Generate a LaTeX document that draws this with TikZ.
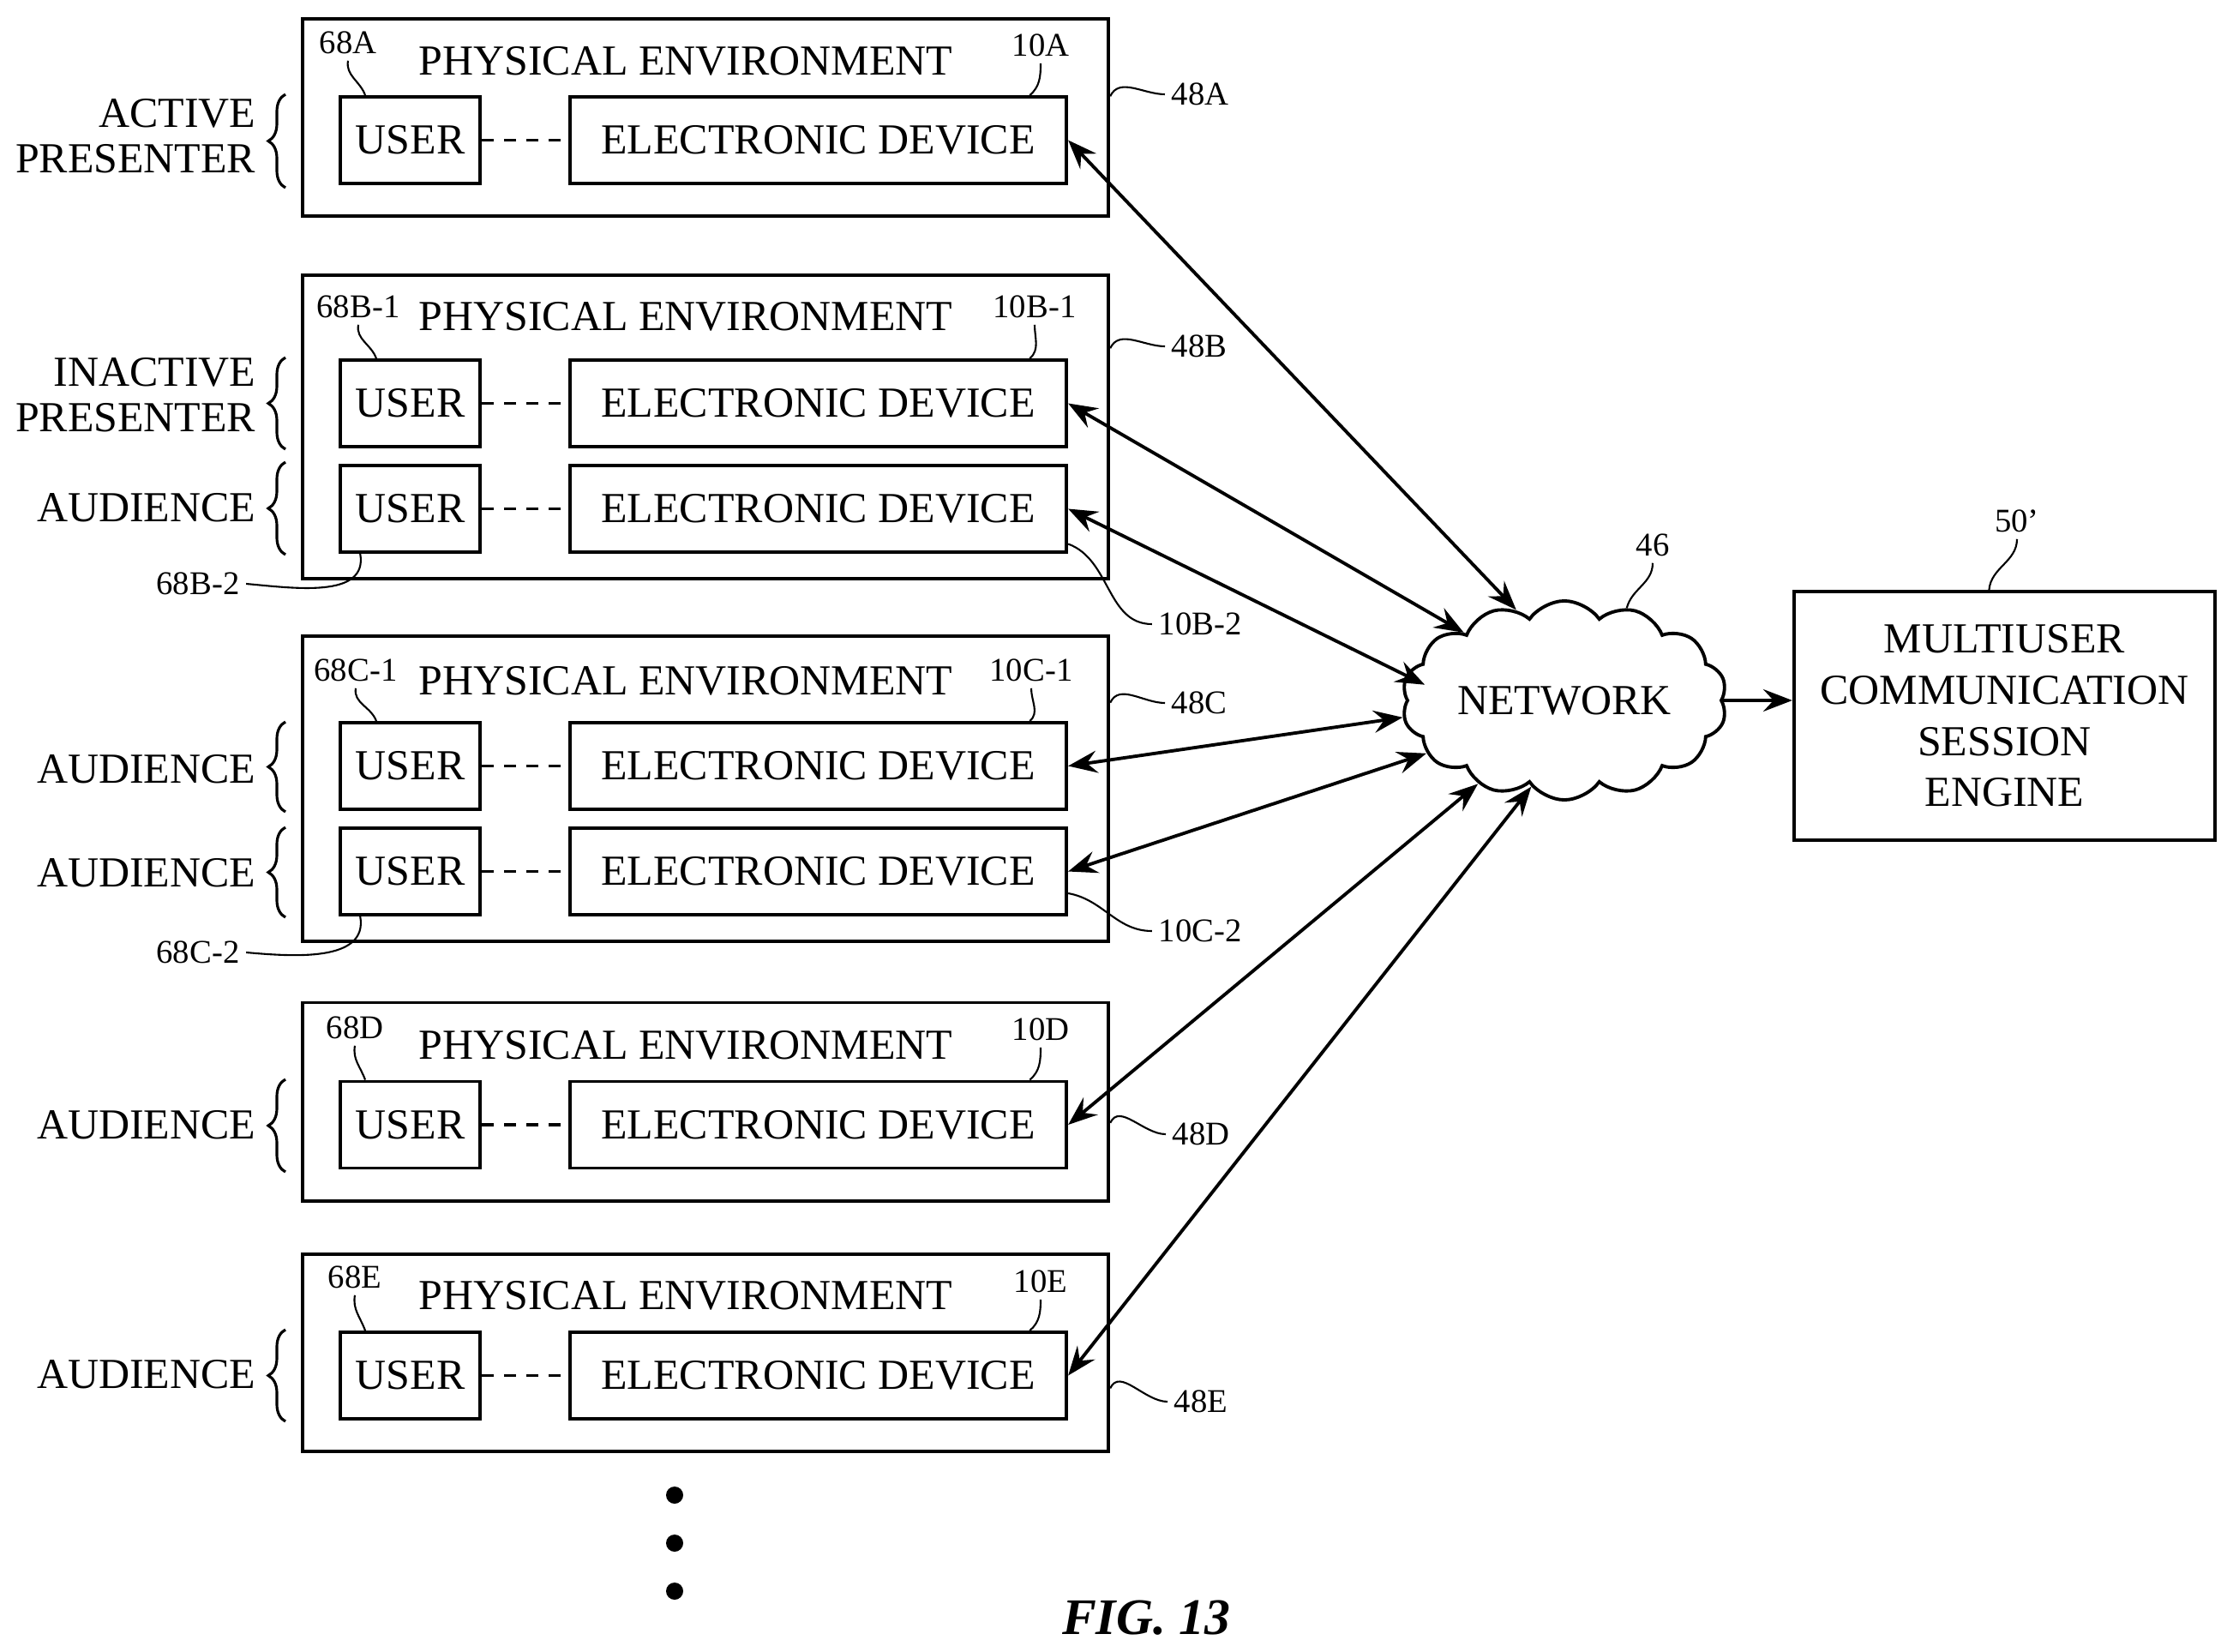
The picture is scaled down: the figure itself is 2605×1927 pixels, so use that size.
\documentclass[tikz,border=0pt]{standalone}
\usepackage{fontspec}
\setmainfont{Liberation Serif}
\usetikzlibrary{arrows.meta,shapes.symbols,decorations.pathreplacing}
\tikzset{
	envbox/.style={draw,line width=1.1pt,minimum width=9.4cm,inner sep=0pt},
	usrbox/.style={draw,line width=1.1pt,minimum width=1.63cm,minimum height=1.01cm,inner sep=0pt,font=\fontsize{14.2}{17}\selectfont},
	devbox/.style={draw,line width=1.1pt,minimum width=5.79cm,minimum height=1.01cm,inner sep=0pt,font=\fontsize{14.2}{17}\selectfont},
	envtxt/.style={inner sep=0pt,font=\fontsize{14.2}{17}\selectfont},
	rolelbl/.style={anchor=east,align=right,inner sep=0pt,font=\fontsize{14.2}{15}\selectfont},
	reflbl/.style={inner sep=2pt,font=\fontsize{11}{13}\selectfont},
	leader/.style={line width=0.6pt},
	linkdash/.style={line width=1pt,dash pattern=on 0.14cm off 0.12cm},
	bracemark/.style={line width=0.9pt,decorate,decoration={brace,amplitude=0.2cm}},
	biarrow/.style={line width=1.1pt,{Stealth[length=0.34cm,width=0.26cm,inset=0.12cm]}-{Stealth[length=0.34cm,width=0.26cm,inset=0.12cm]}},
	onearrow/.style={line width=1.1pt,-{Stealth[length=0.34cm,width=0.26cm,inset=0.12cm]}},
	dotmark/.style={circle,fill,inner sep=0pt,minimum size=0.2cm}
}
\begin{document}
\begin{tikzpicture}[x=0.01cm,y=-0.01cm]
	\useasboundingbox (0,0) rectangle (2605,1927);
	%environment A
		\node[envbox,minimum height=2.3cm] (envA) at (823,137) {};
		\node[envtxt] (titleA) at (800,71) {PHYSICAL ENVIRONMENT};
		\node[usrbox] (usrA) at (478.5,163.5) {USER};
		\node[devbox] (devA) at (954.5,163.5) {ELECTRONIC DEVICE};
		\draw[linkdash] (usrA) -- (devA);
		% brace
		\draw[bracemark] (333,219) -- (333,110);
		\node[rolelbl] (roleA) at (299,159) {ACTIVE\\PRESENTER};
		% refs
		\node[reflbl] (l68A) at (406,50) {68A};
		\node[reflbl] (l10A) at (1214,53) {10A};
		\node[reflbl] (l48A) at (1400,110) {48A};
		\draw[leader] (l68A.south) to[out=-100,in=110] (usrA.135);
		\draw[leader] (l10A.south) to[out=-90,in=40] (devA.12);
		\draw[leader] (envA.3) to[out=65,in=180] (l48A.west);
	%environment B
		\node[envbox,minimum height=3.54cm] (envB) at (823,498) {};
		\node[envtxt] (titleB) at (800,369) {PHYSICAL ENVIRONMENT};
		\node[usrbox] (usrBa) at (478.5,470.5) {USER};
		\node[devbox] (devBa) at (954.5,470.5) {ELECTRONIC DEVICE};
		\node[usrbox] (usrBb) at (478.5,593.5) {USER};
		\node[devbox] (devBb) at (954.5,593.5) {ELECTRONIC DEVICE};
		\draw[linkdash] (usrBa) -- (devBa);
		\draw[linkdash] (usrBb) -- (devBb);
		% brace
		\draw[bracemark] (333,524) -- (333,417);
		\draw[bracemark] (333,647) -- (333,539);
		\node[rolelbl] (roleBa) at (299,461) {INACTIVE\\PRESENTER};
		\node[rolelbl] (roleBb) at (299,592) {AUDIENCE};
		% refs
		\node[reflbl] (l68Ba) at (418,358) {68B-1};
		\node[reflbl] (l10Ba) at (1207,358) {10B-1};
		\node[reflbl] (l68Bb) at (231,681) {68B-2};
		\node[reflbl] (l10Bb) at (1400,728) {10B-2};
		\node[reflbl] (l48B) at (1399,404) {48B};
		\draw[leader] (l68Ba.south) to[out=-100,in=110] (usrBa.127);
		\draw[leader] (l10Ba.south) to[out=-90,in=40] (devBa.12);
		\draw[leader] (l68Bb.east) to[out=-5,in=-80] (usrBb.222);
		\draw[leader] (devBb.-8) to[out=-20,in=180] (l10Bb.west);
		\draw[leader] (envB.11) to[out=65,in=180] (l48B.west);
	%environment C
		\node[envbox,minimum height=3.56cm] (envC) at (823,920) {};
		\node[envtxt] (titleC) at (800,794) {PHYSICAL ENVIRONMENT};
		\node[usrbox] (usrCa) at (478.5,893.5) {USER};
		\node[devbox] (devCa) at (954.5,893.5) {ELECTRONIC DEVICE};
		\node[usrbox] (usrCb) at (478.5,1016.5) {USER};
		\node[devbox] (devCb) at (954.5,1016.5) {ELECTRONIC DEVICE};
		\draw[linkdash] (usrCa) -- (devCa);
		\draw[linkdash] (usrCb) -- (devCb);
		% brace
		\draw[bracemark] (333,947) -- (333,842);
		\draw[bracemark] (333,1070) -- (333,965);
		\node[rolelbl] (roleCa) at (299,897) {AUDIENCE};
		\node[rolelbl] (roleCb) at (299,1018) {AUDIENCE};
		% refs
		\node[reflbl] (l68Ca) at (415,782) {68C-1};
		\node[reflbl] (l10Ca) at (1203,782) {10C-1};
		\node[reflbl] (l68Cb) at (231,1111) {68C-2};
		\node[reflbl] (l10Cb) at (1400,1086) {10C-2};
		\node[reflbl] (l48C) at (1399,820) {48C};
		\draw[leader] (l68Ca.south) to[out=-100,in=110] (usrCa.127);
		\draw[leader] (l10Ca.south) to[out=-90,in=40] (devCa.12);
		\draw[leader] (l68Cb.east) to[out=-5,in=-80] (usrCb.222);
		\draw[leader] (devCb.-5) to[out=-10,in=180] (l10Cb.west);
		\draw[leader] (envC.12) to[out=65,in=180] (l48C.west);
	%environment D
		\node[envbox,minimum height=2.31cm] (envD) at (823,1285) {};
		\node[envtxt] (titleD) at (800,1219) {PHYSICAL ENVIRONMENT};
		\node[usrbox] (usrD) at (478.5,1312) {USER};
		\node[devbox] (devD) at (954.5,1312) {ELECTRONIC DEVICE};
		\draw[linkdash] (usrD) -- (devD);
		% brace
		\draw[bracemark] (333,1367) -- (333,1259);
		\node[rolelbl] (roleD) at (299,1312) {AUDIENCE};
		% refs
		\node[reflbl] (l68D) at (414,1199) {68D};
		\node[reflbl] (l10D) at (1214,1201) {10D};
		\node[reflbl] (l48D) at (1401,1323) {48D};
		\draw[leader] (l68D.south) to[out=-100,in=110] (usrD.135);
		\draw[leader] (l10D.south) to[out=-90,in=40] (devD.12);
		\draw[leader] (envD.-3) to[out=65,in=180] (l48D.west);
	%environment E
		\node[envbox,minimum height=2.3cm] (envE) at (823,1578) {};
		\node[envtxt] (titleE) at (800,1511) {PHYSICAL ENVIRONMENT};
		\node[usrbox] (usrE) at (478.5,1604.5) {USER};
		\node[devbox] (devE) at (954.5,1604.5) {ELECTRONIC DEVICE};
		\draw[linkdash] (usrE) -- (devE);
		% brace
		\draw[bracemark] (333,1658) -- (333,1551);
		\node[rolelbl] (roleE) at (299,1603) {AUDIENCE};
		% refs
		\node[reflbl] (l68E) at (414,1490) {68E};
		\node[reflbl] (l10E) at (1214,1495) {10E};
		\node[reflbl] (l48E) at (1401,1635) {48E};
		\draw[leader] (l68E.south) to[out=-100,in=110] (usrE.135);
		\draw[leader] (l10E.south) to[out=-90,in=40] (devE.12);
		\draw[leader] (envE.-5) to[out=65,in=180] (l48E.west);
	%more environments
		\foreach \dotname/\doty in {dotA/1744,dotB/1800,dotC/1856}
			\node[dotmark] (\dotname) at (787,\doty) {};
	%network
		\node[cloud,draw,line width=1.1pt,cloud puffs=14,cloud puff arc=110,aspect=1.8,minimum width=3.79cm,minimum height=2.05cm,inner sep=0pt,font=\fontsize{14.2}{17}\selectfont] (net) at (1825,817) {NETWORK};
		\node[reflbl] (l46) at (1928,636) {46};
		\draw[leader] (l46.south) to[out=-90,in=75] (net.56);
	%engine
		\node[draw,line width=1.1pt,minimum width=4.91cm,minimum height=2.9cm,align=center,inner sep=0pt,font=\fontsize{14.2}{17}\selectfont] (engine) at (2338.5,835) {MULTIUSER\\COMMUNICATION\\SESSION\\ENGINE};
		\node[reflbl] (l50) at (2353,608) {50'};
		\draw[leader] (l50.south) to[out=-90,in=85] (engine.97);
	% links
		\draw[biarrow] (devA.east) -- (net.118);
		\draw[biarrow] (devBa.east) -- (net.146);
		\draw[biarrow,shorten >=-0.25cm] (devBb.east) -- (net.171);
		\draw[biarrow] (devCa.east) -- (net.186);
		\draw[biarrow] (devCb.east) -- (net.201);
		\draw[biarrow] (devD.east) -- (net.224);
		\draw[biarrow] (devE.east) -- (net.249);
		\draw[onearrow] (net.east) -- (net.east -| engine.west);
	% caption
		\node[inner sep=0pt,font=\fontsize{17}{20}\selectfont\bfseries\itshape] (figlbl) at (1337,1887) {FIG. 13};
\end{tikzpicture}
\end{document}
